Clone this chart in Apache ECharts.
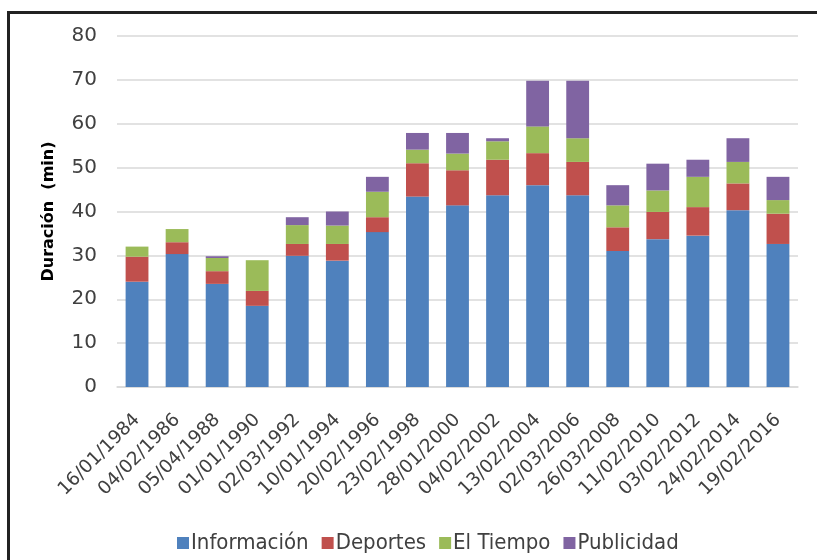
<!DOCTYPE html>
<html>
<head>
<meta charset="utf-8">
<script src="https://cdn.jsdelivr.net/npm/echarts@6/dist/echarts.min.js"></script>
<style>html,body{margin:0;padding:0;background:#fff;}#c{width:817px;height:560px;}</style>
</head>
<body>
<div id="c"></div>
<script>
const categories = ["16/01/1984","04/02/1986","05/04/1988","01/01/1990","02/03/1992","10/01/1994","20/02/1996","23/02/1998","28/01/2000","04/02/2002","13/02/2004","02/03/2006","26/03/2008","11/02/2010","03/02/2012","24/02/2014","19/02/2016"];
const informacion = [24.0, 30.3, 23.5, 18.5, 29.9, 28.8, 35.3, 43.4, 41.4, 43.7, 46.0, 43.7, 31.0, 33.7, 34.5, 40.3, 32.6];
const deportes    = [5.7, 2.7, 2.9, 3.4, 2.7, 3.8, 3.4, 7.6, 8.0, 8.1, 7.3, 7.6, 5.4, 6.2, 6.5, 6.1, 6.9];
const elTiempo    = [2.3, 3.0, 3.0, 7.0, 4.3, 4.2, 5.8, 3.1, 3.8, 4.2, 6.1, 5.4, 5.0, 4.9, 6.9, 4.9, 3.1];
const publicidad  = [0, 0, 0.4, 0, 1.8, 3.2, 3.4, 3.8, 4.7, 0.7, 10.4, 13.1, 4.6, 6.1, 3.9, 5.4, 5.3];
const yTicks = [0, 80, 10];
const seriesNames = ["Información", "Deportes", "El Tiempo", "Publicidad"];
const colors = ["#4F81BD", "#C0504D", "#9BBB59", "#8064A2"];

const chart = echarts.init(document.getElementById('c'), null, {renderer: 'canvas'});
const dataSets = [informacion, deportes, elTiempo, publicidad];
const font = "'DejaVu Sans', sans-serif";
const fontC = "'DejaVu Sans Condensed', 'DejaVu Sans', sans-serif";
chart.setOption({
  animation: false,
  color: colors,
  graphic: [{
    type: 'rect', silent: true, z: 100,
    shape: {x: 8.5, y: 12.5, width: 900, height: 700},
    style: {fill: 'none', stroke: '#222', lineWidth: 3}
  }],
  grid: {left: 117, right: 19, top: 36, bottom: 173},
  legend: {
    data: seriesNames, left: 172, top: 527,
    itemWidth: 12, itemHeight: 12, itemGap: 13,
    icon: 'rect',
    textStyle: {fontFamily: fontC, fontSize: 22, color: '#404040', padding: [0,0,0,-3]}
  },
  xAxis: {
    type: 'category', data: categories,
    axisLine: {lineStyle: {color: '#d9d9d9', width: 1.5}},
    axisTick: {show: false},
    axisLabel: {rotate: 45, interval: 0, fontFamily: font, fontSize: 18.5, color: '#404040', margin: 30}
  },
  yAxis: {
    type: 'value', min: yTicks[0], max: yTicks[1], interval: yTicks[2],
    name: 'Duración  (min)', nameLocation: 'middle', nameGap: 60, nameRotate: 90,
    nameTextStyle: {fontFamily: font, fontSize: 16, fontWeight: 'bold', color: '#000'},
    axisLine: {show: false}, axisTick: {show: false},
    axisLabel: {fontFamily: font, fontSize: 20, color: '#404040', margin: 20},
    splitLine: {lineStyle: {color: '#d9d9d9', width: 1.5}}
  },
  series: seriesNames.map((n, i) => ({
    name: n, type: 'bar', stack: 'total', data: dataSets[i],
    barWidth: '57%',
    itemStyle: {color: colors[i]}
  }))
});
</script>
</body>
</html>
